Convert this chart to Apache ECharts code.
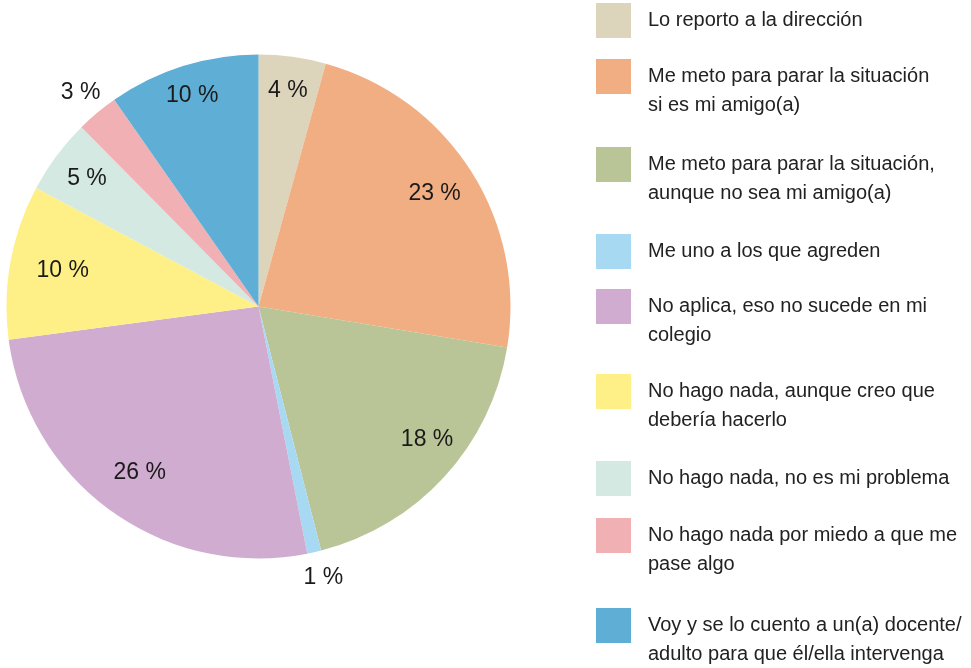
<!DOCTYPE html>
<html>
<head>
<meta charset="utf-8">
<script src="https://cdn.jsdelivr.net/npm/echarts@6.0.0/dist/echarts.min.js"></script>
<style>
  html, body { margin: 0; padding: 0; background: #fff; }
  #chart { width: 971px; height: 668px; }
</style>
</head>
<body>
<div id="chart"></div>
<script>
// answers, in clockwise order starting at 12 o'clock
const categories = [
  'Lo reporto a la dirección',
  'Me meto para parar la situación\nsi es mi amigo(a)',
  'Me meto para parar la situación,\naunque no sea mi amigo(a)',
  'Me uno a los que agreden',
  'No aplica, eso no sucede en mi\ncolegio',
  'No hago nada, aunque creo que\ndebería hacerlo',
  'No hago nada, no es mi problema',
  'No hago nada por miedo a que me\npase algo',
  'Voy y se lo cuento a un(a) docente/\nadulto para que él/ella intervenga'
];
const percents = [4.3, 23.3, 18.4, 0.9, 26.0, 9.9, 4.8, 2.7, 9.7];
const colors = ['#ddd4bc', '#f2ae83', '#b9c596', '#a8d9f3', '#cfacd0', '#fef086', '#d4e9e2', '#f1b1b4', '#5eaed5'];

// label layout: distance of each % label from the pie centre (>252 = outside the pie)
const labelRadius = [215, 206, 212, 277, 201, 196, 211, 275, 218];
const labelNudge = [[0, 0], [0, 0], [10, -12], [3, -2], [0, 0], [0, 0], [0, 0], [0, 0], [0, 0]];
// top edge of each legend square
const legendTops = [3, 59, 147, 234, 289, 374, 461, 518, 608];

const chart = echarts.init(document.getElementById('chart'));

const CENTER = [258.5, 306.5];
const R = 252;
const LINE_H = 29;
const SQ = 35;

const pieData = categories.map((name, i) => ({
  name: name,
  value: percents[i],
  itemStyle: { color: colors[i] }
}));

function pctLabel(p) {
  return Math.round(p.value) + ' %';
}

// invisible ring whose middle sits at the label distance of entry k;
// only that entry's label is shown
function labelRing(k) {
  const r = labelRadius[k];
  return {
    type: 'pie',
    silent: true,
    center: CENTER,
    radius: [r - 30, r + 30],
    startAngle: 90,
    avoidLabelOverlap: false,
    itemStyle: { color: 'rgba(0,0,0,0)' },
    emphasis: { disabled: true },
    labelLine: { show: false },
    data: categories.map((name, i) => ({
      name: name,
      value: percents[i],
      label: {
        show: i === k,
        position: 'inside',
        offset: labelNudge[i],
        formatter: pctLabel,
        color: '#1a1a1a',
        fontSize: 23,
        fontFamily: 'Liberation Sans, Arial, sans-serif'
      }
    }))
  };
}

// one legend per entry so each square sits where the reference has it;
// two-line entries get an empty first line so the square lines up with line one
const legends = categories.map((name, i) => {
  const twoLines = name.indexOf('\n') >= 0;
  return {
    data: [name],
    orient: 'vertical',
    left: 596,
    top: twoLines ? legendTops[i] - (1.5 * LINE_H - SQ / 2) : legendTops[i],
    padding: 0,
    icon: 'rect',
    itemWidth: SQ,
    itemHeight: SQ,
    selectedMode: false,
    formatter: n => (twoLines ? '\n' + n : n),
    textStyle: {
      color: '#222',
      fontSize: 20,
      lineHeight: LINE_H,
      fontFamily: 'Liberation Sans, Arial, sans-serif',
      padding: [0, 0, 0, 12]
    }
  };
});

chart.setOption({
  animation: false,
  backgroundColor: '#ffffff',
  legend: legends,
  series: [
    {
      type: 'pie',
      center: CENTER,
      radius: R,
      startAngle: 90,
      label: { show: false },
      labelLine: { show: false },
      emphasis: { disabled: true },
      data: pieData
    }
  ].concat(categories.map((_, k) => labelRing(k)))
});
</script>
</body>
</html>
